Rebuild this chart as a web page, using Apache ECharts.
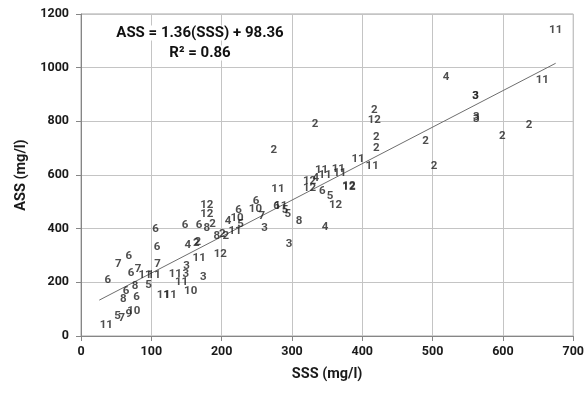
<!DOCTYPE html>
<html>
<head>
<meta charset="utf-8">
<script src="https://cdn.jsdelivr.net/npm/echarts@6/dist/echarts.min.js"></script>
<style>html,body{margin:0;padding:0;background:#fff;}#c{width:587px;height:393px;}</style>
</head>
<body>
<div id="c"></div>
<script>
// Site labels shown at each point
const pointLabels = ["11","5","7","9","10","8","6","6","8","5","6","6","7","11","11","7","6","7","6","6",
  "11","11","10","11","3","11","3","3","11","4","2","2","12","8","2","2","11","6","6","8","2",
  "12","12","4","6","10","5","6","10","7","3","11","2","6","11","5","5","8","3","4","12","5","6",
  "12","12","4","11","11","11","11","12","12","11","11","2","12","2","2","2","2","2","4","3","3",
  "3","3","2","2","11","11"];
// SSS (mg/l)
const sssValues = [36,52,58,68,75,60,79,64,77,96,38,71,81,91,104,53,68,109,108,106,
  117,127,156,134,149,143,150,174,168,152,164,166,198,193,201,206,219,148,168,179,187,
  179,179,209,224,222,227,249,248,257,261,280,274,278,284,290,294,310,296,347,362,354,343,
  325,325,334,342,347,366,368,381,381,394,414,333,417,417,420,420,490,502,519,561,561,
  562,562,599,637,656,675];
// ASS (mg/l)
const assValues = [41,75,67,82,91,138,144,166,185,190,209,236,248,228,228,268,299,269,332,397,
  151,151,168,231,231,202,261,219,292,337,346,348,305,371,380,371,392,414,414,402,417,
  486,455,429,468,439,417,502,472,447,402,549,694,483,483,470,455,427,343,406,486,520,541,
  577,552,588,619,601,621,608,555,557,659,632,791,803,843,741,700,725,633,964,893,895,
  814,808,746,787,955,1139];
// Regression: ASS = slope * SSS + intercept
const slope = 1.36, intercept = 98.36;
const trendRange = [26, 675];
const xTicks = {min: 0, max: 700, interval: 100};
const yTicks = {min: 0, max: 1200, interval: 200};

const pts = sssValues.map((x, i) => [x, assValues[i], pointLabels[i]]);
const trend = trendRange.map(x => [x, slope * x + intercept]);

const chart = echarts.init(document.getElementById('c'), null, {renderer: 'canvas'});
const axisFont = {fontFamily: 'Roboto', fontWeight: 'bold', fontSize: 12.5, color: '#1a1a1a'};
chart.setOption({
  animation: false,
  backgroundColor: '#fff',
  grid: {left: 81, right: 13, top: 14, bottom: 57, show: true, borderColor: '#a6a6a6', borderWidth: 1},
  xAxis: {
    type: 'value', min: xTicks.min, max: xTicks.max, interval: xTicks.interval,
    name: 'SSS (mg/l)', nameLocation: 'middle', nameGap: 31,
    nameTextStyle: {fontFamily: 'Roboto', fontWeight: 'bold', fontSize: 14.5, color: '#1a1a1a'},
    axisLine: {show: true, onZero: false, lineStyle: {color: '#868686'}},
    axisTick: {show: true, length: 5, lineStyle: {color: '#868686'}},
    axisLabel: Object.assign({margin: 9, formatter: v => String(v)}, axisFont),
    splitLine: {show: true, lineStyle: {color: '#c4c4c4'}}
  },
  yAxis: {
    type: 'value', min: yTicks.min, max: yTicks.max, interval: yTicks.interval,
    name: 'ASS (mg/l)', nameLocation: 'middle', nameGap: 52, nameRotate: 90,
    nameTextStyle: {fontFamily: 'Roboto', fontWeight: 'bold', fontSize: 14.5, color: '#1a1a1a'},
    axisLine: {show: true, onZero: false, lineStyle: {color: '#868686'}},
    axisTick: {show: true, length: 5, lineStyle: {color: '#868686'}},
    axisLabel: Object.assign({margin: 12, formatter: v => String(v)}, axisFont),
    splitLine: {show: true, lineStyle: {color: '#c4c4c4'}}
  },
  series: [
    {
      type: 'line', data: trend, symbol: 'none', silent: true,
      lineStyle: {color: '#6e6e6e', width: 1}, z: 2
    },
    {
      type: 'scatter', data: pts, symbolSize: 1, itemStyle: {color: 'rgba(0,0,0,0)'}, z: 3,
      label: {
        show: true, position: 'inside', formatter: p => p.data[2],
        fontFamily: 'Roboto', fontWeight: 'bold', fontSize: 11.5, color: '#222'
      },
      labelLayout: {hideOverlap: false}
    }
  ],
  graphic: [
    {type: 'text', z: 100, x: 200, y: 33, style: {text: 'ASS = 1.36(SSS) + 98.36', x: 0, y: 0, align: 'center', verticalAlign: 'middle',
      font: 'bold 15px Roboto', fill: '#111', backgroundColor: '#fff'}},
    {type: 'text', z: 100, x: 200, y: 53, style: {text: 'R² = 0.86', x: 0, y: 0, align: 'center', verticalAlign: 'middle',
      font: 'bold 15px Roboto', fill: '#111', backgroundColor: '#fff'}}
  ]
});
</script>
</body>
</html>
